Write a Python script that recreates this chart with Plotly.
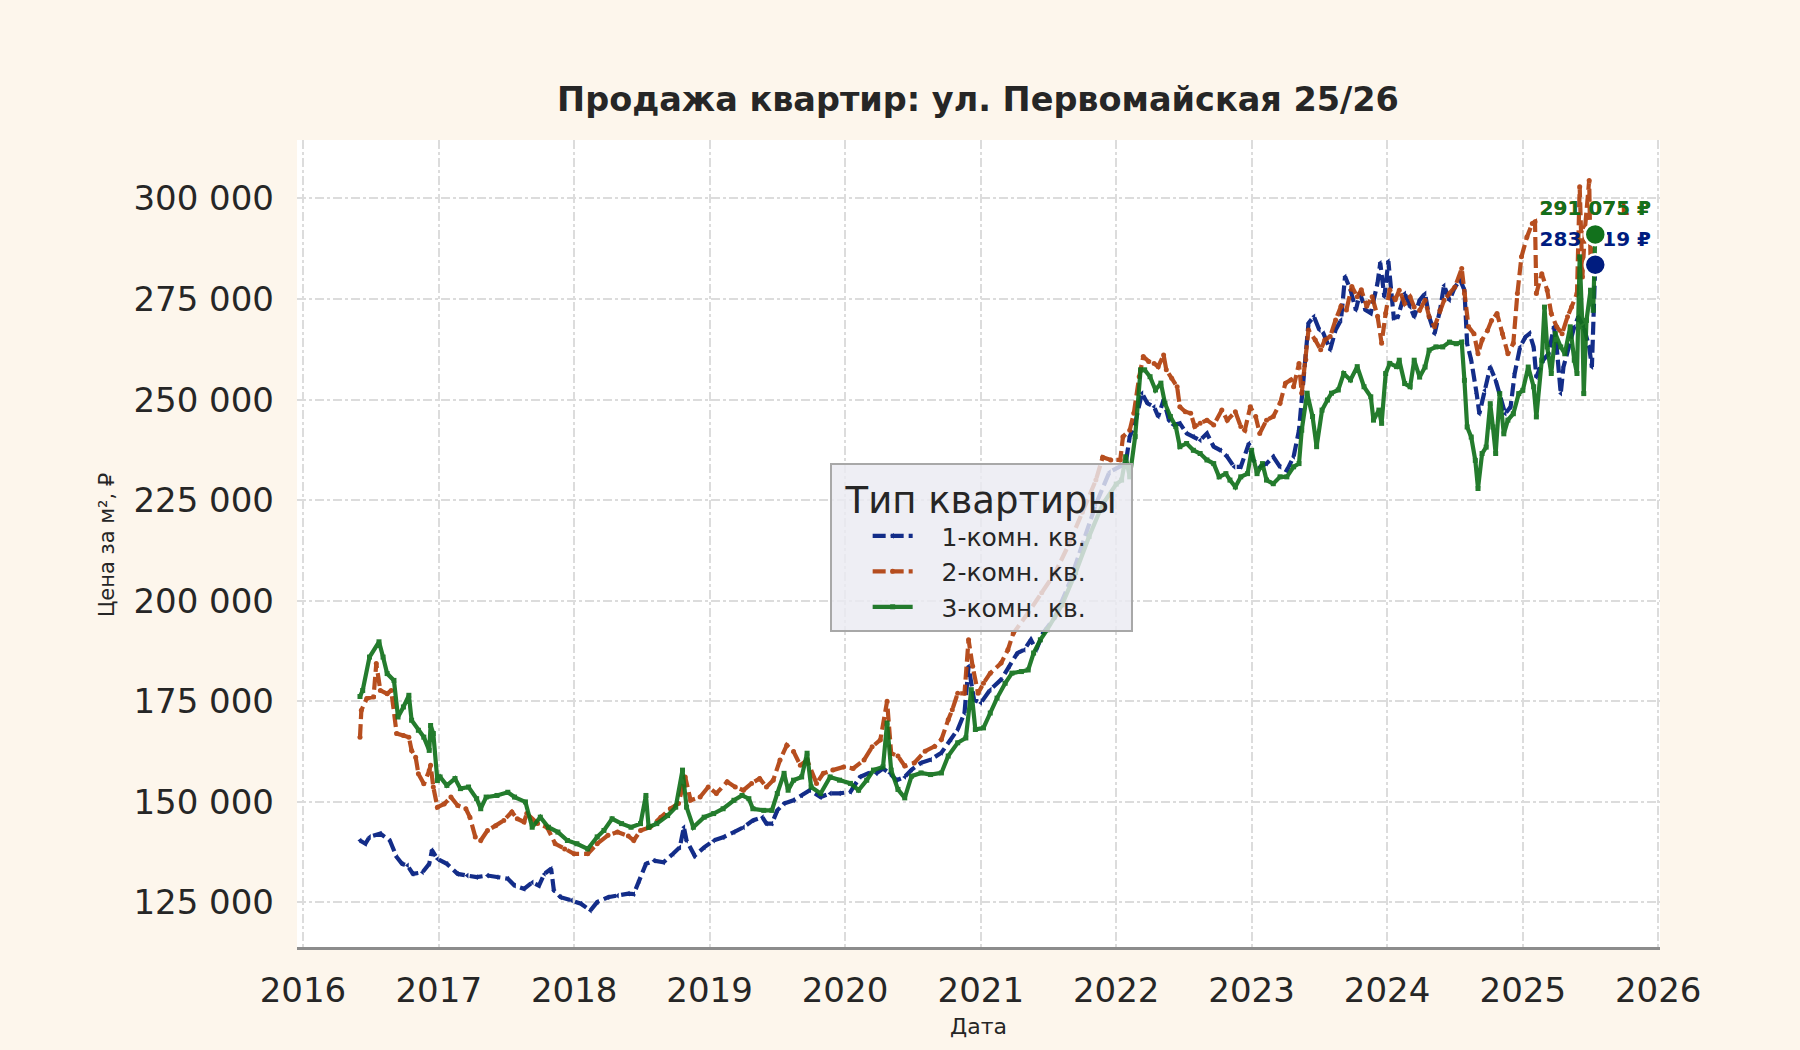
import datetime as dt
import plotly.graph_objects as go

# ---------------- data ----------------
series_names = ["1-комн. кв.", "2-комн. кв.", "3-комн. кв."]

t1 = [2016.42, 2016.46, 2016.49, 2016.57, 2016.64, 2016.69, 2016.73, 2016.77, 2016.81, 2016.88,
      2016.93, 2016.95, 2016.99, 2017.06, 2017.14, 2017.21, 2017.28, 2017.36, 2017.43, 2017.51,
      2017.56, 2017.63, 2017.69, 2017.74, 2017.78, 2017.83, 2017.85, 2017.90, 2017.98, 2018.05,
      2018.12, 2018.17, 2018.25, 2018.32, 2018.40, 2018.44, 2018.48, 2018.53, 2018.59, 2018.66,
      2018.73, 2018.78, 2018.81, 2018.83, 2018.89, 2018.96, 2019.03, 2019.10, 2019.18, 2019.25,
      2019.32, 2019.39, 2019.42, 2019.46, 2019.50, 2019.55, 2019.62, 2019.68, 2019.74, 2019.82,
      2019.89, 2019.96, 2020.04, 2020.11, 2020.17, 2020.23, 2020.28, 2020.33, 2020.38, 2020.44,
      2020.49, 2020.56, 2020.63, 2020.71, 2020.78, 2020.83, 2020.88, 2020.91, 2020.95, 2021.00,
      2021.07, 2021.15, 2021.21, 2021.27, 2021.32, 2021.37, 2021.41, 2021.46, 2021.55, 2021.65,
      2021.75, 2021.85, 2021.95, 2022.07, 2022.10, 2022.14, 2022.19, 2022.23, 2022.28, 2022.31,
      2022.35, 2022.39, 2022.42, 2022.47, 2022.52, 2022.57, 2022.62, 2022.67, 2022.72, 2022.77,
      2022.82, 2022.87, 2022.92, 2022.98, 2023.01, 2023.06, 2023.11, 2023.16, 2023.21, 2023.26,
      2023.31, 2023.35, 2023.38, 2023.42, 2023.46, 2023.50, 2023.53, 2023.58, 2023.62, 2023.66,
      2023.69, 2023.73, 2023.77, 2023.80, 2023.84, 2023.88, 2023.93, 2023.95, 2023.98, 2024.01,
      2024.05, 2024.08, 2024.13, 2024.17, 2024.20, 2024.24, 2024.28, 2024.31, 2024.35, 2024.39,
      2024.42, 2024.46, 2024.50, 2024.54, 2024.57, 2024.59, 2024.62, 2024.66, 2024.68, 2024.72,
      2024.76, 2024.80, 2024.83, 2024.87, 2024.91, 2024.94, 2024.98, 2025.02, 2025.05, 2025.08,
      2025.10, 2025.15, 2025.19, 2025.23, 2025.25, 2025.28, 2025.30, 2025.34, 2025.38, 2025.41,
      2025.45, 2025.49, 2025.51, 2025.535]
v1 = [140400, 139600, 141300, 142100, 140400, 136300, 134600, 134200, 132100, 132500,
      134600, 138000, 135800, 134600, 132100, 131700, 131300, 131700, 131300, 130900,
      129200, 128400, 130000, 129200, 132100, 133400, 128000, 126300, 125500, 124700,
      123000, 125100, 126300, 126700, 127200, 127100, 130400, 134600, 135400, 135000,
      137100, 138700, 143700, 140400, 136600, 138700, 140400, 141200, 142500, 143700,
      145400, 146200, 144600, 144600, 147900, 149600, 150400, 151600, 152900, 151200,
      152100, 152100, 152500, 156200, 157100, 157100, 158300, 157100, 155400, 156200,
      158000, 159700, 160500, 162200, 165500, 168000, 172100, 183700, 175400, 174600,
      177900, 180400, 183700, 187000, 187800, 190300, 187800, 192000, 196000, 204000,
      214000, 224000, 232000, 234100, 240800, 244100, 251600, 249100, 248200, 245800,
      249900, 244900, 243700, 244100, 241600, 240800, 239900, 241600, 238300, 237400,
      235800, 233300, 233300, 239100, 235000, 233300, 234100, 235800, 233300, 232400,
      235800, 242400, 254900, 269000, 270700, 267300, 266500, 262400, 267300, 269800,
      280600, 277300, 272300, 276500, 272300, 271500, 279000, 284000, 275600, 284400,
      270300, 270600, 276400, 273000, 270600, 274700, 276400, 270600, 266400, 272200,
      278400, 274700, 278000, 279700, 277200, 263900, 259800, 251500, 246500, 252300,
      258100, 254800, 251500, 246500, 248200, 256500, 263100, 265600, 266400, 263100,
      255600, 259800, 261400, 268100, 263100, 251500, 258100, 263100, 268100, 270600,
      268100, 263100, 258100, 283519]

t2 = [2016.42, 2016.43, 2016.47, 2016.52, 2016.54, 2016.57, 2016.62, 2016.65, 2016.69, 2016.74,
      2016.78, 2016.80, 2016.83, 2016.85, 2016.89, 2016.93, 2016.94, 2016.96, 2016.99, 2017.04,
      2017.09, 2017.14, 2017.20, 2017.23, 2017.27, 2017.31, 2017.36, 2017.42, 2017.48, 2017.54,
      2017.58, 2017.63, 2017.65, 2017.73, 2017.80, 2017.86, 2017.93, 2018.00, 2018.10, 2018.17,
      2018.25, 2018.32, 2018.40, 2018.44, 2018.49, 2018.56, 2018.64, 2018.71, 2018.77, 2018.82,
      2018.86, 2018.93, 2018.99, 2019.05, 2019.13, 2019.19, 2019.25, 2019.31, 2019.37, 2019.42,
      2019.47, 2019.52, 2019.57, 2019.62, 2019.67, 2019.72, 2019.79, 2019.84, 2019.91, 2019.99,
      2020.06, 2020.14, 2020.20, 2020.26, 2020.31, 2020.34, 2020.39, 2020.44, 2020.51, 2020.59,
      2020.66, 2020.71, 2020.76, 2020.79, 2020.83, 2020.88, 2020.91, 2020.94, 2020.98, 2021.02,
      2021.07, 2021.15, 2021.20, 2021.24, 2021.35, 2021.45, 2021.55, 2021.65, 2021.75, 2021.85,
      2021.90, 2021.96, 2022.03, 2022.05, 2022.10, 2022.13, 2022.17, 2022.20, 2022.24, 2022.28,
      2022.31, 2022.35, 2022.37, 2022.41, 2022.45, 2022.47, 2022.51, 2022.55, 2022.58, 2022.62,
      2022.67, 2022.72, 2022.78, 2022.82, 2022.88, 2022.92, 2022.95, 2022.99, 2023.03, 2023.06,
      2023.11, 2023.16, 2023.21, 2023.25, 2023.29, 2023.31, 2023.35, 2023.37, 2023.40, 2023.42,
      2023.47, 2023.51, 2023.54, 2023.58, 2023.62, 2023.66, 2023.70, 2023.74, 2023.78, 2023.81,
      2023.85, 2023.89, 2023.93, 2023.96, 2023.99, 2024.02, 2024.06, 2024.09, 2024.13, 2024.17,
      2024.20, 2024.24, 2024.28, 2024.31, 2024.35, 2024.39, 2024.42, 2024.46, 2024.50, 2024.55,
      2024.57, 2024.60, 2024.64, 2024.67, 2024.70, 2024.74, 2024.77, 2024.81, 2024.85, 2024.89,
      2024.93, 2024.96, 2024.99, 2025.03, 2025.07, 2025.09, 2025.10, 2025.14, 2025.18, 2025.21,
      2025.25, 2025.29, 2025.33, 2025.36, 2025.40, 2025.42, 2025.44, 2025.46, 2025.49, 2025.50,
      2025.52, 2025.535]
v2 = [166100, 172800, 175700, 176100, 184400, 177700, 176900, 177700, 167000, 166500,
      166100, 162800, 161100, 157000, 154500, 157800, 159100, 153700, 148700, 149500,
      151200, 149100, 148300, 146200, 141300, 140400, 142900, 144100, 145400, 147500,
      145800, 145000, 147100, 144600, 143700, 139600, 138300, 137100, 137100, 139600,
      141700, 142500, 141500, 140400, 142900, 143700, 146200, 148300, 149600, 156200,
      150400, 151200, 153700, 152100, 155000, 153700, 152900, 154600, 155800, 153700,
      155400, 160400, 164100, 162500, 159100, 160400, 154600, 157100, 157900, 158700,
      158300, 160400, 163700, 165400, 175000, 162100, 161400, 158900, 159700, 162600,
      163800, 165500, 170400, 172900, 177000, 177000, 190300, 183700, 177000, 179500,
      182000, 184500, 187800, 191900, 197000, 202000, 207000, 214000, 222000, 230000,
      235700, 235000, 235000, 240800, 242400, 246600, 255700, 260700, 259500, 259000,
      258200, 261100, 257400, 255300, 253200, 248200, 247000, 246600, 243300, 244100,
      244900, 243700, 247400, 244900, 247000, 243300, 242400, 248200, 245800, 241600,
      244900, 245800, 249100, 254100, 254900, 253200, 259000, 251600, 259900, 267300,
      264800, 262400, 264800, 265700, 269800, 273200, 272300, 278100, 275600, 277300,
      273200, 275600, 270700, 264000, 271500, 277300, 274800, 277200, 273900, 275500,
      273000, 272200, 274700, 270600, 268100, 272200, 274700, 276400, 278000, 282600,
      276400, 268100, 266400, 261400, 264800, 267200, 269700, 271400, 266400, 261400,
      264000, 276400, 285500, 290400, 293800, 294200, 276400, 281300, 277200, 271400,
      268100, 266400, 270600, 273000, 276400, 302900, 280500, 292900, 304500, 284600,
      292900, 291071]

t3 = [2016.42, 2016.44, 2016.49, 2016.56, 2016.59, 2016.62, 2016.67, 2016.70, 2016.74, 2016.78,
      2016.80, 2016.85, 2016.89, 2016.93, 2016.94, 2016.96, 2016.99, 2017.01, 2017.06, 2017.12,
      2017.16, 2017.22, 2017.28, 2017.31, 2017.35, 2017.43, 2017.51, 2017.56, 2017.64, 2017.69,
      2017.75, 2017.81, 2017.88, 2017.95, 2018.02, 2018.10, 2018.17, 2018.22, 2018.28, 2018.35,
      2018.42, 2018.49, 2018.53, 2018.55, 2018.61, 2018.69, 2018.75, 2018.80, 2018.83, 2018.88,
      2018.96, 2019.03, 2019.10, 2019.18, 2019.24, 2019.29, 2019.32, 2019.40, 2019.46, 2019.50,
      2019.55, 2019.58, 2019.62, 2019.68, 2019.72, 2019.75, 2019.82, 2019.89, 2019.96, 2020.04,
      2020.10, 2020.16, 2020.21, 2020.28, 2020.31, 2020.34, 2020.39, 2020.44, 2020.49, 2020.56,
      2020.63, 2020.71, 2020.76, 2020.83, 2020.89, 2020.93, 2020.96, 2021.02, 2021.07, 2021.12,
      2021.18, 2021.23, 2021.30, 2021.35, 2021.39, 2021.44, 2021.49, 2021.60, 2021.70, 2021.80,
      2021.90, 2022.00, 2022.04, 2022.07, 2022.10, 2022.14, 2022.18, 2022.21, 2022.25, 2022.29,
      2022.33, 2022.36, 2022.40, 2022.44, 2022.47, 2022.52, 2022.57, 2022.62, 2022.67, 2022.72,
      2022.76, 2022.81, 2022.84, 2022.88, 2022.92, 2022.97, 2023.00, 2023.04, 2023.08, 2023.11,
      2023.16, 2023.21, 2023.26, 2023.31, 2023.35, 2023.37, 2023.41, 2023.45, 2023.48, 2023.52,
      2023.56, 2023.59, 2023.64, 2023.68, 2023.73, 2023.78, 2023.83, 2023.88, 2023.90, 2023.94,
      2023.96, 2023.99, 2024.02, 2024.07, 2024.09, 2024.13, 2024.17, 2024.20, 2024.24, 2024.28,
      2024.31, 2024.36, 2024.41, 2024.46, 2024.51, 2024.55, 2024.57, 2024.59, 2024.62, 2024.65,
      2024.67, 2024.70, 2024.73, 2024.76, 2024.78, 2024.80, 2024.83, 2024.86, 2024.89, 2024.93,
      2024.97, 2025.00, 2025.04, 2025.08, 2025.10, 2025.14, 2025.16, 2025.18, 2025.21, 2025.24,
      2025.28, 2025.31, 2025.35, 2025.38, 2025.40, 2025.42, 2025.44, 2025.45, 2025.47, 2025.50,
      2025.52, 2025.535]
v3 = [176200, 177700, 186000, 189800, 186000, 181900, 180200, 171100, 173600, 176500,
      170300, 167800, 166100, 162800, 169000, 167000, 155300, 156200, 154100, 155800,
      153300, 153700, 150800, 148300, 151200, 151600, 152400, 151200, 150000, 143700,
      146200, 143700, 142500, 140400, 139600, 138300, 141300, 142900, 145800, 144600,
      143700, 144600, 151600, 143700, 144600, 146600, 148700, 157900, 148700, 143700,
      146200, 147100, 148300, 150400, 151600, 150800, 148300, 147900, 147900, 152100,
      157100, 152900, 155400, 156200, 162100, 153700, 152100, 156200, 155400, 154600,
      152900, 155400, 157900, 158700, 169600, 157900, 153100, 151000, 156400, 157200,
      156800, 157200, 161400, 164700, 165900, 177900, 168000, 168400, 172100, 175800,
      179500, 182000, 182400, 182800, 187000, 190300, 192800, 199000, 207000, 216000,
      224000, 229000, 230000, 235800, 230800, 240800, 257400, 257400, 255700, 252400,
      254100, 249100, 245800, 243300, 238300, 239100, 237400, 236600, 235000, 234100,
      230800, 231600, 230000, 228300, 230800, 231600, 237400, 231600, 234100, 230000,
      229100, 230800, 230800, 233300, 234100, 242400, 251600, 245800, 238300, 247400,
      249900, 251600, 252400, 256500, 254900, 258200, 253200, 250700, 244900, 247400,
      244100, 256500, 259000, 258200, 259800, 254000, 253200, 259800, 255600, 258100,
      262300, 263100, 263100, 264300, 263900, 264300, 254800, 243200, 240700, 234900,
      227900, 236600, 238200, 249000, 243200, 236600, 251500, 241500, 244900, 246500,
      251500, 252300, 258100, 253200, 245700, 259800, 273000, 263100, 256500, 266400,
      263100, 261400, 268100, 259800, 256500, 285500, 268100, 251500, 269700, 277200,
      272200, 291075]

y_ticks = [125000, 150000, 175000, 200000, 225000, 250000, 275000, 300000]
x_ticks = list(range(2016, 2027))

colors = ["#001c7f", "#b1400d", "#12711c"]
dashes = ["13px,5px", "13px,5px", "solid"]
symbols = ["triangle-left", "circle", "square"]


def to_date(y):
    yi = int(y)
    s = dt.datetime(yi, 1, 1)
    e = dt.datetime(yi + 1, 1, 1)
    return s + (e - s) * (y - yi)


def fmt(v):
    return f"{v:,}".replace(",", " ") + " ₽"


FONT = "DejaVu Sans"
TXT = "#262626"
NB = "\u00a0"

fig = go.Figure()
all_t = [t1, t2, t3]
all_v = [v1, v2, v3]
for i in range(3):
    fig.add_trace(go.Scatter(
        x=[to_date(t) for t in all_t[i]], y=all_v[i], name=NB * 3 + series_names[i],
        mode="lines+markers", opacity=0.92,
        line=dict(color=colors[i], width=4.2, dash=dashes[i]),
        marker=dict(symbol=symbols[i], size=5, color=colors[i]),
    ))

for i in range(3):
    fig.add_trace(go.Scatter(
        x=[to_date(all_t[i][-1])], y=[all_v[i][-1]], mode="markers+text",
        text=[f"<b>{fmt(all_v[i][-1])}</b>"], textposition="top center",
        textfont=dict(family=FONT, size=20, color=colors[i]),
        marker=dict(size=21, color=colors[i], line=dict(color="white", width=2.5)),
        showlegend=False, hoverinfo="skip", cliponaxis=False,
    ))

fig.update_layout(
    width=1800, height=1050,
    paper_bgcolor="#FDF6EC", plot_bgcolor="white",
    margin=dict(l=297, r=140, t=140, b=103),
    separators=", ",
    font=dict(family=FONT, color=TXT),
    title=dict(text="<b>Продажа квартир: ул. Первомайская 25/26</b>",
               x=978 / 1800, xanchor="center", y=1 - 99 / 1050, yanchor="middle",
               yref="container", xref="container",
               font=dict(family=FONT, size=33.5, color=TXT)),
    legend=dict(
        x=0.3908, y=0.5998, xanchor="left", yanchor="top",
        bgcolor="rgba(234,234,242,0.82)", bordercolor="#A8A8A8", borderwidth=2,
        font=dict(family=FONT, size=25, color=TXT),
        title=dict(text=NB + "Тип квартиры" + NB, side="top center",
                   font=dict(family=FONT, size=37, color=TXT)),
        itemwidth=40, indentation=36,
    ),
    showlegend=True,
)

fig.update_xaxes(
    type="date",
    range=[to_date(2015.956), to_date(2026.013)],
    tickvals=[dt.datetime(y, 1, 1) for y in x_ticks],
    ticktext=[str(y) for y in x_ticks],
    tickfont=dict(family=FONT, size=34, color=TXT),
    ticks="", ticklabelstandoff=11,
    showgrid=True, gridcolor="#DCDCDC", gridwidth=1.8, griddash="dashdot",
    showline=True, linecolor="#8C8C8C", linewidth=3,
    zeroline=False,
)
fig.update_yaxes(
    range=[113930, 314540],
    tickvals=y_ticks, tickformat=",d",
    tickfont=dict(family=FONT, size=34, color=TXT),
    ticks="", ticklabelstandoff=22,
    showgrid=True, gridcolor="#DCDCDC", gridwidth=1.8, griddash="dashdot",
    showline=False, zeroline=False,
)

fig.add_annotation(text="Дата", xref="paper", yref="paper", x=0.5, y=(947 - 1026) / 807,
                   xanchor="center", yanchor="middle", showarrow=False,
                   font=dict(family=FONT, size=22, color=TXT))
fig.add_annotation(text="Цена за м², ₽", xref="paper", yref="paper",
                   x=(107 - 297) / 1363, y=(947 - 545) / 807, textangle=-90,
                   xanchor="center", yanchor="middle", showarrow=False,
                   font=dict(family=FONT, size=21, color=TXT))

fig.write_html("out.html", config={"displayModeBar": False},
               post_script="document.body.style.margin='0';document.body.style.padding='0';")
